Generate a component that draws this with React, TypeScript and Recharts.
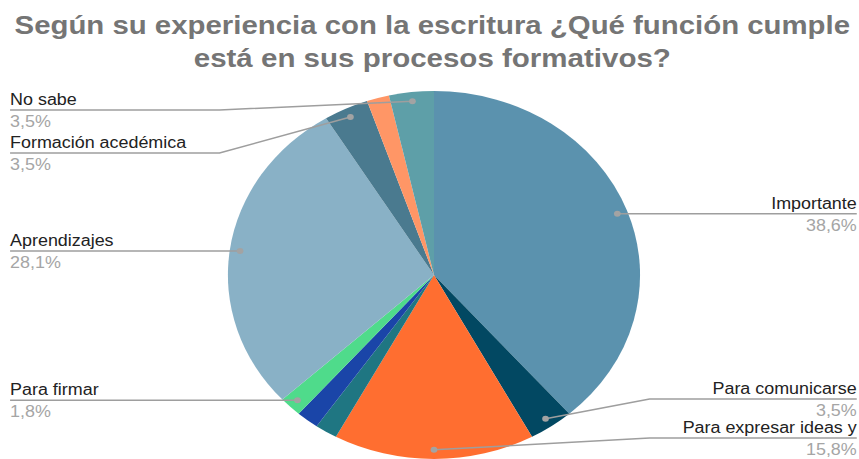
import React from 'react';
import { PieChart, Pie, Cell, Sector } from 'recharts';

const TITLE_LINES = [
  'Según su experiencia con la escritura ¿Qué función cumple',
  'está en sus procesos formativos?',
];

const categories = [
  'Importante',
  'Para comunicarse',
  'Para expresar ideas y',
  '',
  '',
  'Para firmar',
  'Aprendizajes',
  'Formación acedémica',
  '',
  'No sabe',
];
const counts = [22, 2, 9, 1, 1, 1, 16, 2, 1, 2];
const colors = [
  '#5b92ae',
  '#024862',
  '#ff6e30',
  '#1f7682',
  '#1a45a8',
  '#4fdb8b',
  '#89b1c6',
  '#4a7a8f',
  '#ff9666',
  '#5e9fa8',
];

const data = categories.map((name, i) => ({ name, value: counts[i] }));

const W = 767;
const H = 459;
const SCALE_X = 859 / W;
const CX = 387.5;
const CY = 275;
const R = 184;
const DOT_F = 0.95;
const LEFT_X = 9;
const RIGHT_X = 765;
const LEFT_ELBOW = 196;
const RIGHT_ELBOW = 580;
const LEFT_TOP = 110;
const RIGHT_BOTTOM = 438;
const GAP_L = 43;
const GAP_R = 39;

const total = counts.reduce((a, b) => a + b, 0);
const fmtPct = (v: number) => ((v / total) * 100).toFixed(1).replace('.', ',') + '%';

// compute label row positions (collision avoidance) from the data
function computeLayout() {
  let start = 90;
  const items = data.map((d, i) => {
    const delta = (d.value / total) * 360;
    const mid = start - delta / 2;
    start -= delta;
    const rad = (mid * Math.PI) / 180;
    const x = CX + DOT_F * R * Math.cos(rad);
    const y = CY - DOT_F * R * Math.sin(rad);
    return { i, x, y, side: x < CX - 0.5 ? 'left' : 'right', labeled: d.name !== '' };
  });
  const lineY: Record<number, number> = {};
  const left = items.filter((d) => d.labeled && d.side === 'left').sort((a, b) => a.y - b.y);
  let prev = -Infinity;
  left.forEach((d) => {
    const y = Math.max(d.y, LEFT_TOP, prev + GAP_L);
    lineY[d.i] = y;
    prev = y;
  });
  const right = items.filter((d) => d.labeled && d.side === 'right').sort((a, b) => b.y - a.y);
  prev = Infinity;
  right.forEach((d) => {
    const y = Math.min(d.y, RIGHT_BOTTOM, prev - GAP_R);
    lineY[d.i] = y;
    prev = y;
  });
  return lineY;
}
const LINE_Y = computeLayout();

const renderShape = (props: any) => (
  <Sector
    cx={props.cx}
    cy={props.cy}
    innerRadius={props.innerRadius}
    outerRadius={props.outerRadius}
    startAngle={props.startAngle}
    endAngle={props.endAngle}
    fill={props.fill}
    stroke="none"
  />
);

const renderLabel = (props: any) => {
  const { cx, cy, midAngle, outerRadius, index } = props;
  const d = data[index];
  if (!d || d.name === '') return null;
  const rad = (midAngle * Math.PI) / 180;
  const dx = cx + DOT_F * outerRadius * Math.cos(rad);
  const dy = cy - DOT_F * outerRadius * Math.sin(rad);
  const ly = LINE_Y[index];
  const isLeft = dx < cx - 0.5;
  const tx = isLeft ? LEFT_X : RIGHT_X;
  const ex = isLeft ? LEFT_ELBOW : RIGHT_ELBOW;
  const straight = Math.abs(ly - dy) < 1.5;
  const path = straight
    ? `M${tx},${ly}L${dx},${ly}`
    : `M${tx},${ly}L${ex},${ly}L${dx},${dy}`;
  const anchor = isLeft ? 'start' : 'end';
  return (
    <g>
      <path d={path} stroke="#9e9e9e" strokeWidth={1.5} fill="none" />
      <circle cx={dx} cy={straight ? ly : dy} r={3} fill="#a3a3a3" />
      <text
        x={tx}
        y={ly - 5}
        textAnchor={anchor}
        fontSize={16}
        fontFamily="'Liberation Sans', Arial, sans-serif"
        fill="#222222"
      >
        {d.name}
      </text>
      <text
        x={tx}
        y={ly + 17}
        textAnchor={anchor}
        fontSize={16}
        fontFamily="'Liberation Sans', Arial, sans-serif"
        fill="#a5a5a5"
      >
        {fmtPct(d.value)}
      </text>
    </g>
  );
};

export default function App() {
  return (
    <div
      style={{
        position: 'absolute',
        left: 0,
        top: 0,
        width: W,
        height: H,
        background: '#ffffff',
        transform: `scaleX(${SCALE_X})`,
        transformOrigin: '0 0',
      }}
    >
      <PieChart width={W} height={H} margin={{ top: 0, right: 0, bottom: 0, left: 0 }}>
        <text
          x={386}
          y={34}
          textAnchor="middle"
          fontSize={25}
          fontWeight="bold"
          fontFamily="'Liberation Sans', Arial, sans-serif"
          fill="#757575"
          textLength={746}
          lengthAdjust="spacingAndGlyphs"
        >
          {TITLE_LINES[0]}
        </text>
        <text
          x={386}
          y={67}
          textAnchor="middle"
          fontSize={25}
          fontWeight="bold"
          fontFamily="'Liberation Sans', Arial, sans-serif"
          fill="#757575"
          textLength={426}
          lengthAdjust="spacingAndGlyphs"
        >
          {TITLE_LINES[1]}
        </text>
        <Pie
          data={data}
          dataKey="value"
          nameKey="name"
          cx={CX}
          cy={CY}
          outerRadius={R}
          startAngle={90}
          endAngle={-270}
          stroke="none"
          shape={renderShape}
          label={renderLabel}
          labelLine={false}
          isAnimationActive={false}
        >
          {data.map((_, i) => (
            <Cell key={i} fill={colors[i]} />
          ))}
        </Pie>
      </PieChart>
    </div>
  );
}
